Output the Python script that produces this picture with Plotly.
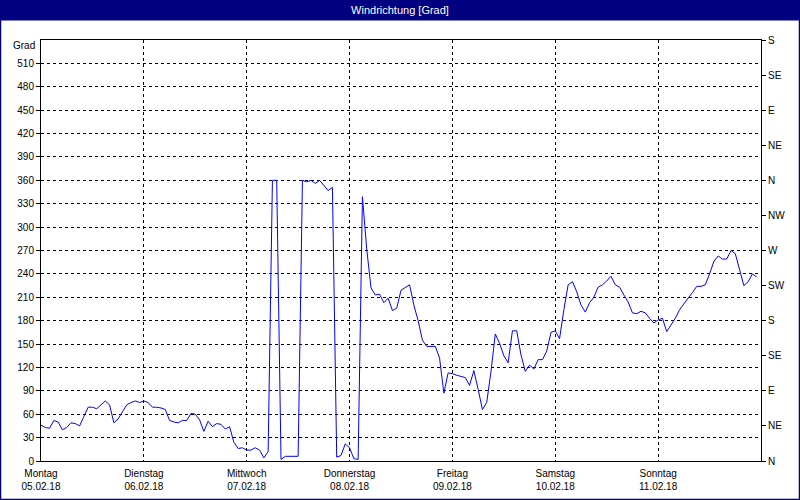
import pandas as pd
import plotly.graph_objects as go

# ---------------- data ----------------
start_time = "2018-02-05 00:00"
end_time = "2018-02-12 00:00"

# hourly wind direction in degrees
wind_deg = [
    46, 43, 42, 52, 50, 40, 43, 49, 48, 45, 57, 69, 69, 67, 72, 77, 72, 49, 54, 64, 72, 75, 77, 75,
    77, 75, 69, 69, 68, 66, 52, 50, 49, 52, 52, 61, 60, 53, 38, 51, 44, 48, 47, 41, 44, 24, 16, 17,
    14, 14, 17, 14, 4, 12, 360, 360, 2, 6, 6, 6, 6, 360, 358, 360, 356, 360, 353, 347, 351, 5, 7, 22,
    17, 3, 2, 339, 272, 222, 213, 214, 203, 209, 193, 196, 219, 223, 226, 200, 180, 155, 147, 147, 147, 132,
    87, 113, 112, 110, 108, 107, 97, 116, 92, 66, 75, 115, 163, 151, 135, 126, 167, 167, 136, 115,
    123, 118, 130, 130, 141, 165, 167, 157, 194, 226, 230, 217, 200, 191, 203, 210, 223, 226, 231, 237,
    226, 223, 213, 204, 190, 189, 192, 190, 183, 177, 181, 183, 166, 174, 183, 194, 202, 209, 216, 224,
    224, 226, 240, 256, 263, 259, 259, 270, 266, 244, 225, 230, 240, 236,
]

day_names = ["Montag", "Dienstag", "Mittwoch", "Donnerstag", "Freitag", "Samstag", "Sonntag"]
day_dates = ["05.02.18", "06.02.18", "07.02.18", "08.02.18", "09.02.18", "10.02.18", "11.02.18"]

grad_ticks = list(range(0, 511, 30))
compass_vals = list(range(0, 541, 45))
compass_labels = ["N", "NE", "E", "SE", "S", "SW", "W", "NW", "N", "NE", "E", "SE", "S"]

# ---------------- figure ----------------
times = pd.date_range(start_time, periods=len(wind_deg), freq="h")
day_ticks = pd.date_range(start_time, periods=len(day_names), freq="D")

W, H = 800, 500
ML, MR, MT, MB = 41, 39, 40, 39
PW, PH = W - ML - MR, H - MT - MB


def px_x(x):
    return (x - ML) / PW


def px_y(y):
    return (H - MB - y) / PH


FONT = "Liberation Sans, Arial, sans-serif"
NAVY = "#000080"

fig = go.Figure()
fig.add_trace(go.Scatter(
    x=times, y=wind_deg, mode="lines",
    line=dict(color="#0000FF", width=1),
    showlegend=False, hoverinfo="x+y",
))
# invisible trace so the compass axis is drawn
fig.add_trace(go.Scatter(
    x=[times[0]], y=[0], yaxis="y2", mode="markers",
    marker=dict(opacity=0), showlegend=False, hoverinfo="skip",
))

axis_common = dict(
    showline=True, linecolor="black", linewidth=1, automargin=False,
    zeroline=False, tickfont=dict(family=FONT, size=10, color="black"),
)

fig.update_layout(
    width=W, height=H, autosize=False,
    margin=dict(l=ML, r=MR, t=MT, b=MB, pad=0, autoexpand=False),
    paper_bgcolor="white", plot_bgcolor="white",
    font=dict(family=FONT, size=10, color="black"),
    title=dict(
        text="Windrichtung [Grad]", x=0.5, xanchor="center",
        y=1 - 10.5 / H, yanchor="middle", automargin=False,
        font=dict(family=FONT, size=11, color="white"),
    ),
    xaxis=dict(
        type="date", range=[start_time, end_time],
        tickmode="array", tickvals=day_ticks,
        ticktext=[f"{n}<br>{d}" for n, d in zip(day_names, day_dates)],
        ticks="", mirror=True, ticklabelstandoff=3,
        showgrid=True, gridcolor="black", gridwidth=1, griddash="3px,3px",
        **axis_common,
    ),
    yaxis=dict(
        range=[0, 540], tickmode="array", tickvals=grad_ticks,
        ticks="outside", ticklen=4, tickcolor="black",
        showgrid=True, gridcolor="black", gridwidth=1, griddash="3px,3px",
        **axis_common,
    ),
    yaxis2=dict(
        range=[0, 540], overlaying="y", side="right",
        tickmode="array", tickvals=compass_vals, ticktext=compass_labels,
        ticks="outside", ticklen=4, tickcolor="black", showgrid=False,
        **axis_common,
    ),
    shapes=[
        dict(type="rect", xref="paper", yref="paper", layer="below",
             x0=px_x(0), x1=px_x(W), y0=px_y(20.5), y1=px_y(0),
             fillcolor=NAVY, line=dict(width=0)),
        dict(type="rect", xref="paper", yref="paper", layer="above",
             x0=px_x(0.5), x1=px_x(W - 0.5), y0=px_y(H - 0.5), y1=px_y(0.5),
             fillcolor="rgba(0,0,0,0)", line=dict(color=NAVY, width=1.5)),
    ],
    annotations=[
        dict(text="Grad", xref="paper", yref="paper",
             x=px_x(37), y=px_y(45), xanchor="right", yanchor="middle",
             showarrow=False, font=dict(family=FONT, size=10, color="black")),
    ],
)

fig.write_html(
    "out.html",
    config={"displayModeBar": False},
    post_script="document.body.style.margin='0px';document.body.style.overflow='hidden';",
)
